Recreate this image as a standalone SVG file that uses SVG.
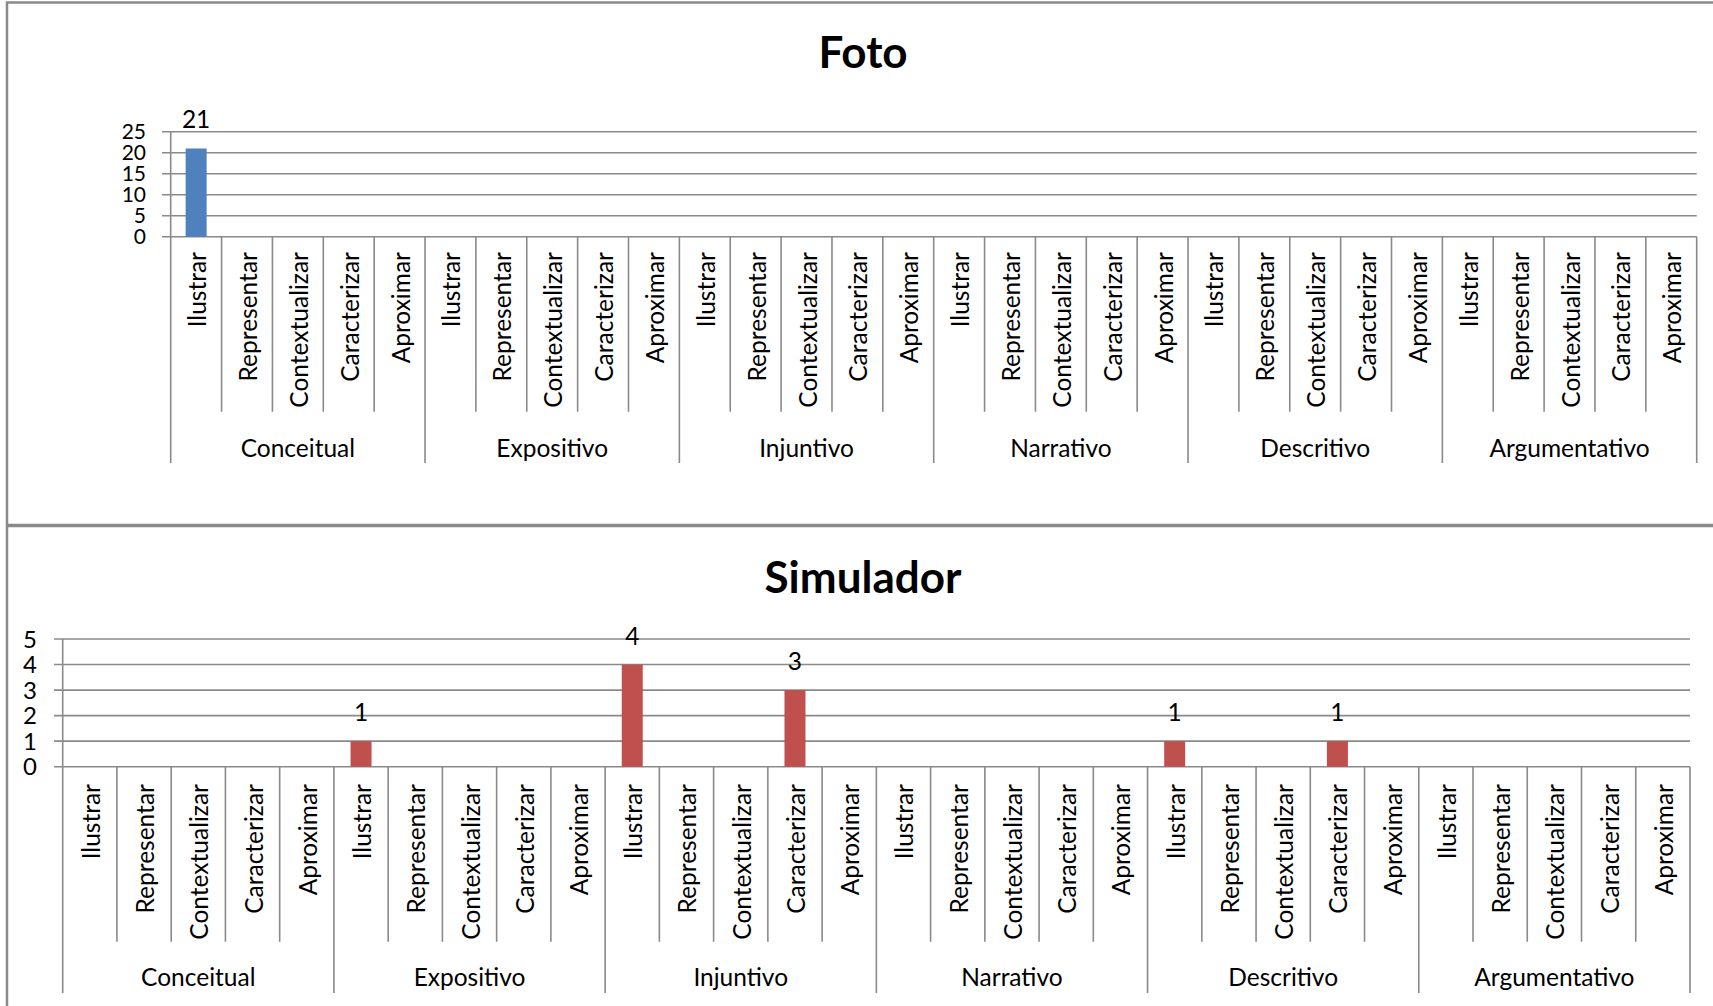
<svg xmlns="http://www.w3.org/2000/svg" width="1713" height="1006" viewBox="0 0 1713 1006">
  <style>
    .frame { stroke: #8a8a8a; stroke-width: 2.5; fill: none; }
    .sep { stroke: #8a8a8a; stroke-width: 3.5; fill: none; }
    .grid { stroke: #8a8a8a; stroke-width: 1.6; fill: none; }
    .axis { stroke: #8a8a8a; stroke-width: 1.6; fill: none; }
    text { font-family: Lato, "Liberation Sans", sans-serif; fill: #000; }
    .ylbl { font-size: 24px; text-anchor: end; }
    .ylbl-tight { font-size: 21px; text-anchor: end; }
    .val { font-size: 24.5px; text-anchor: middle; }
    .grp { font-size: 24.5px; text-anchor: middle; }
    .cat { font-size: 24.5px; text-anchor: end; }
    .title { font-size: 44px; font-weight: bold; text-anchor: middle; }
    .bar-blue { fill: #4f81bd; }
    .bar-red { fill: #c0504d; }
  </style>

  <rect x="0" y="0" width="1713" height="1006" fill="#ffffff"/>

  <!-- outer chart frames -->
  <g id="frames">
    <path class="frame" d="M7 1006 V2.5 H1713"/>
    <path class="sep" d="M7 525.5 H1713"/>
  </g>

  <!-- ===== Chart 1: Foto ===== -->
  <g id="chart-foto">
    <text class="title" x="863" y="68">Foto</text>

    <!-- horizontal gridlines with y ticks -->
    <path class="grid" d="M162 131.7 H1696.7 M162 152.7 H1696.7 M162 173.7 H1696.7 M162 194.7 H1696.7 M162 215.7 H1696.7 M162 236.7 H1696.7"/>

    <!-- category axis: inner ticks -->
    <path class="axis" d="M221.57 236.7 V411.7 M272.43 236.7 V411.7 M323.3 236.7 V411.7 M374.17 236.7 V411.7
      M475.9 236.7 V411.7 M526.77 236.7 V411.7 M577.63 236.7 V411.7 M628.5 236.7 V411.7
      M730.23 236.7 V411.7 M781.1 236.7 V411.7 M831.97 236.7 V411.7 M882.83 236.7 V411.7
      M984.57 236.7 V411.7 M1035.43 236.7 V411.7 M1086.3 236.7 V411.7 M1137.17 236.7 V411.7
      M1238.9 236.7 V411.7 M1289.77 236.7 V411.7 M1340.63 236.7 V411.7 M1391.5 236.7 V411.7
      M1493.23 236.7 V411.7 M1544.1 236.7 V411.7 M1594.97 236.7 V411.7 M1645.83 236.7 V411.7"/>
    <!-- value axis and group separators -->
    <path class="axis" d="M170.7 131.7 V463 M425.03 236.7 V463 M679.37 236.7 V463 M933.7 236.7 V463 M1188.03 236.7 V463 M1442.37 236.7 V463 M1696.7 236.7 V463"/>

    <!-- y labels -->
    <g id="foto-yaxis">
      <text class="ylbl-tight" x="146" y="139.2">25</text>
      <text class="ylbl-tight" x="146" y="160.2">20</text>
      <text class="ylbl-tight" x="146" y="181.2">15</text>
      <text class="ylbl-tight" x="146" y="202.2">10</text>
      <text class="ylbl-tight" x="146" y="223.2">5</text>
      <text class="ylbl-tight" x="146" y="244.2">0</text>
    </g>

    <!-- data -->
    <rect class="bar-blue" x="185.63" y="148.5" width="21" height="88.2"/>
    <text class="val" x="196.13" y="128">21</text>

    <!-- category labels -->
    <g id="foto-cats">
      <text class="cat" transform="translate(206.13 252) rotate(-90)">Ilustrar</text>
      <text class="cat" transform="translate(257 252) rotate(-90)">Representar</text>
      <text class="cat" transform="translate(307.87 252) rotate(-90)">Contextualizar</text>
      <text class="cat" transform="translate(358.73 252) rotate(-90)">Caracterizar</text>
      <text class="cat" transform="translate(409.6 252) rotate(-90)">Aproximar</text>
      <text class="cat" transform="translate(460.47 252) rotate(-90)">Ilustrar</text>
      <text class="cat" transform="translate(511.33 252) rotate(-90)">Representar</text>
      <text class="cat" transform="translate(562.2 252) rotate(-90)">Contextualizar</text>
      <text class="cat" transform="translate(613.07 252) rotate(-90)">Caracterizar</text>
      <text class="cat" transform="translate(663.93 252) rotate(-90)">Aproximar</text>
      <text class="cat" transform="translate(714.8 252) rotate(-90)">Ilustrar</text>
      <text class="cat" transform="translate(765.67 252) rotate(-90)">Representar</text>
      <text class="cat" transform="translate(816.53 252) rotate(-90)">Contextualizar</text>
      <text class="cat" transform="translate(867.4 252) rotate(-90)">Caracterizar</text>
      <text class="cat" transform="translate(918.27 252) rotate(-90)">Aproximar</text>
      <text class="cat" transform="translate(969.13 252) rotate(-90)">Ilustrar</text>
      <text class="cat" transform="translate(1020 252) rotate(-90)">Representar</text>
      <text class="cat" transform="translate(1070.87 252) rotate(-90)">Contextualizar</text>
      <text class="cat" transform="translate(1121.73 252) rotate(-90)">Caracterizar</text>
      <text class="cat" transform="translate(1172.6 252) rotate(-90)">Aproximar</text>
      <text class="cat" transform="translate(1223.47 252) rotate(-90)">Ilustrar</text>
      <text class="cat" transform="translate(1274.33 252) rotate(-90)">Representar</text>
      <text class="cat" transform="translate(1325.2 252) rotate(-90)">Contextualizar</text>
      <text class="cat" transform="translate(1376.07 252) rotate(-90)">Caracterizar</text>
      <text class="cat" transform="translate(1426.93 252) rotate(-90)">Aproximar</text>
      <text class="cat" transform="translate(1477.8 252) rotate(-90)">Ilustrar</text>
      <text class="cat" transform="translate(1528.67 252) rotate(-90)">Representar</text>
      <text class="cat" transform="translate(1579.53 252) rotate(-90)">Contextualizar</text>
      <text class="cat" transform="translate(1630.4 252) rotate(-90)">Caracterizar</text>
      <text class="cat" transform="translate(1681.27 252) rotate(-90)">Aproximar</text>
    </g>

    <!-- group labels -->
    <g id="foto-groups">
      <text class="grp" x="297.87" y="456.5">Conceitual</text>
      <text class="grp" x="552.2" y="456.5">Expositivo</text>
      <text class="grp" x="806.53" y="456.5">Injuntivo</text>
      <text class="grp" x="1060.87" y="456.5">Narrativo</text>
      <text class="grp" x="1315.2" y="456.5">Descritivo</text>
      <text class="grp" x="1569.53" y="456.5">Argumentativo</text>
    </g>
  </g>

  <!-- ===== Chart 2: Simulador ===== -->
  <g id="chart-simulador">
    <text class="title" x="863" y="593">Simulador</text>

    <!-- horizontal gridlines with y ticks -->
    <path class="grid" d="M54 639 H1690 M54 664.54 H1690 M54 690.08 H1690 M54 715.62 H1690 M54 741.16 H1690 M54 766.7 H1690"/>

    <!-- category axis: inner ticks -->
    <path class="axis" d="M116.94 766.7 V941.7 M171.19 766.7 V941.7 M225.43 766.7 V941.7 M279.67 766.7 V941.7
      M388.16 766.7 V941.7 M442.4 766.7 V941.7 M496.64 766.7 V941.7 M550.89 766.7 V941.7
      M659.37 766.7 V941.7 M713.62 766.7 V941.7 M767.86 766.7 V941.7 M822.1 766.7 V941.7
      M930.59 766.7 V941.7 M984.83 766.7 V941.7 M1039.07 766.7 V941.7 M1093.32 766.7 V941.7
      M1201.8 766.7 V941.7 M1256.05 766.7 V941.7 M1310.29 766.7 V941.7 M1364.53 766.7 V941.7
      M1473.02 766.7 V941.7 M1527.26 766.7 V941.7 M1581.5 766.7 V941.7 M1635.75 766.7 V941.7"/>
    <!-- value axis and group separators -->
    <path class="axis" d="M62.7 639 V993 M333.92 766.7 V993 M605.13 766.7 V993 M876.35 766.7 V993 M1147.56 766.7 V993 M1418.78 766.7 V993 M1690 766.7 V993"/>

    <!-- y labels -->
    <g id="sim-yaxis">
      <text class="ylbl" x="37" y="647.5">5</text>
      <text class="ylbl" x="37" y="673">4</text>
      <text class="ylbl" x="37" y="698.6">3</text>
      <text class="ylbl" x="37" y="724.1">2</text>
      <text class="ylbl" x="37" y="749.7">1</text>
      <text class="ylbl" x="37" y="775.2">0</text>
    </g>

    <!-- data -->
    <rect class="bar-red" x="350.54" y="741.16" width="21" height="25.54"/>
    <rect class="bar-red" x="621.75" y="664.54" width="21" height="102.16"/>
    <rect class="bar-red" x="784.48" y="690.08" width="21" height="76.62"/>
    <rect class="bar-red" x="1164.18" y="741.16" width="21" height="25.54"/>
    <rect class="bar-red" x="1326.91" y="741.16" width="21" height="25.54"/>
    <text class="val" x="361.04" y="721.2">1</text>
    <text class="val" x="632.25" y="644.5">4</text>
    <text class="val" x="794.98" y="670.1">3</text>
    <text class="val" x="1174.68" y="721.2">1</text>
    <text class="val" x="1337.41" y="721.2">1</text>

    <!-- category labels -->
    <g id="sim-cats">
      <text class="cat" transform="translate(99.82 784) rotate(-90)">Ilustrar</text>
      <text class="cat" transform="translate(154.06 784) rotate(-90)">Representar</text>
      <text class="cat" transform="translate(208.31 784) rotate(-90)">Contextualizar</text>
      <text class="cat" transform="translate(262.55 784) rotate(-90)">Caracterizar</text>
      <text class="cat" transform="translate(316.79 784) rotate(-90)">Aproximar</text>
      <text class="cat" transform="translate(371.04 784) rotate(-90)">Ilustrar</text>
      <text class="cat" transform="translate(425.28 784) rotate(-90)">Representar</text>
      <text class="cat" transform="translate(479.52 784) rotate(-90)">Contextualizar</text>
      <text class="cat" transform="translate(533.76 784) rotate(-90)">Caracterizar</text>
      <text class="cat" transform="translate(588.01 784) rotate(-90)">Aproximar</text>
      <text class="cat" transform="translate(642.25 784) rotate(-90)">Ilustrar</text>
      <text class="cat" transform="translate(696.49 784) rotate(-90)">Representar</text>
      <text class="cat" transform="translate(750.74 784) rotate(-90)">Contextualizar</text>
      <text class="cat" transform="translate(804.98 784) rotate(-90)">Caracterizar</text>
      <text class="cat" transform="translate(859.22 784) rotate(-90)">Aproximar</text>
      <text class="cat" transform="translate(913.47 784) rotate(-90)">Ilustrar</text>
      <text class="cat" transform="translate(967.71 784) rotate(-90)">Representar</text>
      <text class="cat" transform="translate(1021.95 784) rotate(-90)">Contextualizar</text>
      <text class="cat" transform="translate(1076.19 784) rotate(-90)">Caracterizar</text>
      <text class="cat" transform="translate(1130.44 784) rotate(-90)">Aproximar</text>
      <text class="cat" transform="translate(1184.68 784) rotate(-90)">Ilustrar</text>
      <text class="cat" transform="translate(1238.92 784) rotate(-90)">Representar</text>
      <text class="cat" transform="translate(1293.17 784) rotate(-90)">Contextualizar</text>
      <text class="cat" transform="translate(1347.41 784) rotate(-90)">Caracterizar</text>
      <text class="cat" transform="translate(1401.65 784) rotate(-90)">Aproximar</text>
      <text class="cat" transform="translate(1455.9 784) rotate(-90)">Ilustrar</text>
      <text class="cat" transform="translate(1510.14 784) rotate(-90)">Representar</text>
      <text class="cat" transform="translate(1564.38 784) rotate(-90)">Contextualizar</text>
      <text class="cat" transform="translate(1618.62 784) rotate(-90)">Caracterizar</text>
      <text class="cat" transform="translate(1672.87 784) rotate(-90)">Aproximar</text>
    </g>

    <!-- group labels -->
    <g id="sim-groups">
      <text class="grp" x="198.31" y="986">Conceitual</text>
      <text class="grp" x="469.52" y="986">Expositivo</text>
      <text class="grp" x="740.74" y="986">Injuntivo</text>
      <text class="grp" x="1011.95" y="986">Narrativo</text>
      <text class="grp" x="1283.17" y="986">Descritivo</text>
      <text class="grp" x="1554.38" y="986">Argumentativo</text>
    </g>
  </g>
</svg>
